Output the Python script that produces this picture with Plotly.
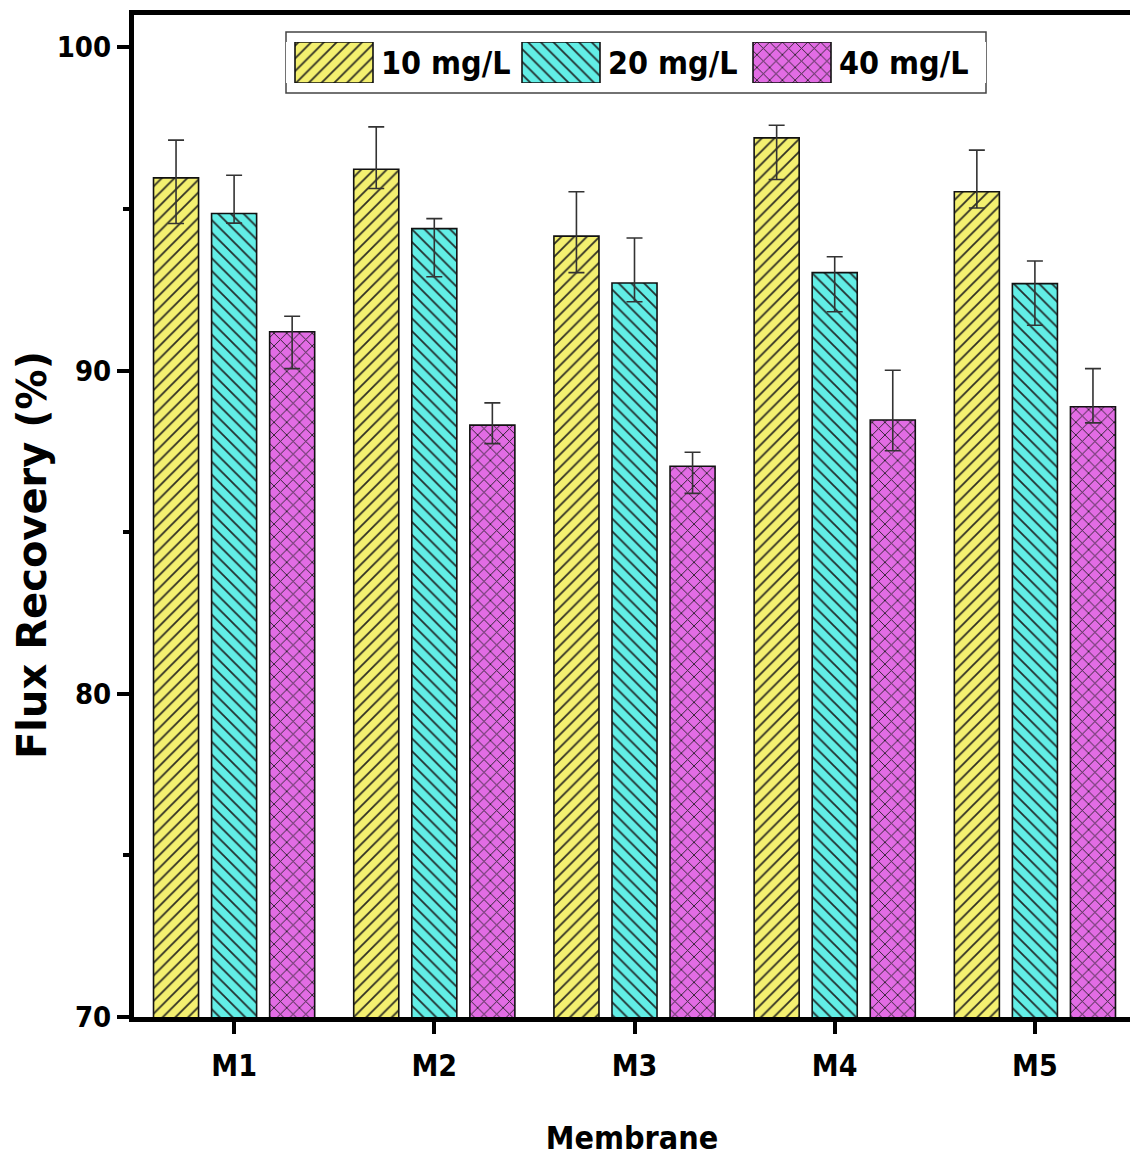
import plotly.graph_objects as go

membranes = ["M1", "M2", "M3", "M4", "M5"]
series_names = ["10 mg/L", "20 mg/L", "40 mg/L"]

fr_10 = [95.96, 96.23, 94.16, 97.20, 95.53]
fr_20 = [94.86, 94.39, 92.71, 93.03, 92.69]
fr_40 = [91.20, 88.31, 87.04, 88.47, 88.88]

err_plus_10 = [1.17, 1.31, 1.37, 0.39, 1.29]
err_minus_10 = [1.41, 0.60, 1.13, 1.29, 0.50]
err_plus_20 = [1.18, 0.31, 1.39, 0.49, 0.70]
err_minus_20 = [0.30, 1.49, 0.58, 1.21, 1.29]
err_plus_40 = [0.48, 0.69, 0.43, 1.54, 1.18]
err_minus_40 = [1.14, 0.57, 0.84, 0.95, 0.50]

values = [fr_10, fr_20, fr_40]
plus = [err_plus_10, err_plus_20, err_plus_40]
minus = [err_minus_10, err_minus_20, err_minus_40]
colors = ["#F4F070", "#62EEE6", "#E26CE4"]
shapes = ["/", "\\", "x"]

font_narrow = "Liberation Sans Narrow, DejaVu Sans Condensed, Roboto Condensed, Liberation Sans"

xpos = list(range(len(membranes)))
bar_w = 0.225
step = 0.29

fig = go.Figure()
for k in range(3):
    center = (k - 1) * step
    pat = dict(shape=shapes[k], size=9, solidity=0.2, fgcolor="#1a1a1a", fgopacity=0.9)
    fig.add_trace(go.Bar(
        x=xpos, y=values[k], name=series_names[k],
        width=bar_w, offset=center - bar_w / 2,
        marker=dict(color=colors[k], line=dict(color="#111111", width=1.6), pattern=pat),
        error_y=dict(type="data", symmetric=False, array=plus[k], arrayminus=minus[k],
                     color="#333333", thickness=1.6, width=8),
        showlegend=False,
    ))

# legend drawn as an inset: one large patterned key patch per series.
# inset x-axis spans the legend box in pixels (box is 700 px wide)
box_l, box_r, box_t, box_b = 286, 986, 32, 93
key_left = [9, 236, 467]
key_w = 78
for k in range(3):
    pat = dict(shape=shapes[k], size=9, solidity=0.2, fgcolor="#1a1a1a", fgopacity=0.9)
    fig.add_trace(go.Bar(
        x=[key_left[k]], y=[1], base=0, width=key_w, offset=0,
        xaxis="x2", yaxis="y2", name=series_names[k], showlegend=False,
        hoverinfo="skip",
        marker=dict(color=colors[k], line=dict(color="#111111", width=1.6), pattern=pat),
    ))
    fig.add_annotation(
        xref="x2", yref="y2", x=key_left[k] + key_w + 6, y=0.5,
        text=series_names[k], showarrow=False, xanchor="left", yanchor="middle",
        font=dict(family=font_narrow, size=32, color="black", weight="bold"),
    )

# legend box
fig.add_shape(type="rect", xref="paper", yref="paper",
              x0=(box_l - 134) / 996, x1=(box_r - 134) / 996,
              y0=(1017 - box_b) / 1002, y1=(1017 - box_t) / 1002,
              line=dict(color="#444444", width=1.5), fillcolor="rgba(0,0,0,0)", layer="below")

# y-axis title
fig.add_annotation(
    xref="paper", yref="paper", x=(32 - 134) / 996, y=(1017 - 555) / 1002,
    text="Flux Recovery (%)", textangle=-90, showarrow=False,
    xanchor="center", yanchor="middle",
    font=dict(family="DejaVu Sans", size=40, color="black", weight="bold"),
)

fig.update_layout(
    width=1130, height=1164,
    margin=dict(l=134, r=0, t=15, b=147),
    plot_bgcolor="white", paper_bgcolor="white",
    barmode="overlay",
    showlegend=False,
    xaxis=dict(
        range=[-0.5, 4.475], tickmode="array", tickvals=xpos, ticktext=membranes,
        showline=True, linecolor="black", linewidth=5, mirror=True,
        ticks="outside", ticklen=12, tickwidth=4, tickcolor="black",
        ticklabelstandoff=6,
        tickfont=dict(family=font_narrow, size=30, color="black", weight="bold"),
        showgrid=False, zeroline=False,
        title=dict(text="Membrane", standoff=46,
                   font=dict(family=font_narrow, size=32, color="black", weight="bold")),
    ),
    yaxis=dict(
        range=[70, 101], tickvals=[70, 80, 90, 100],
        showline=True, linecolor="black", linewidth=5, mirror=False,
        ticks="outside", ticklen=12, tickwidth=4, tickcolor="black",
        minor=dict(dtick=5, tick0=70, ticks="outside", ticklen=6, tickwidth=4, tickcolor="black"),
        tickfont=dict(family=font_narrow, size=29, color="black", weight="bold"),
        showgrid=False, zeroline=False,
    ),
    xaxis2=dict(
        domain=[(box_l - 134) / 996, (box_r - 134) / 996], range=[0, box_r - box_l],
        visible=False, fixedrange=True,
    ),
    yaxis2=dict(
        domain=[(1017 - 83) / 1002, (1017 - 42) / 1002], range=[0, 1],
        visible=False, fixedrange=True,
    ),
)

fig.write_html("out.html")
